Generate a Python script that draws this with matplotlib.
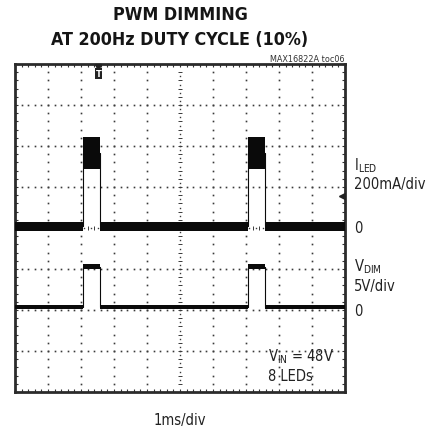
import numpy as np
import matplotlib
matplotlib.use("Agg")
import matplotlib.pyplot as plt

# ---------------- data (in graticule divisions) ----------------
# I_LED trace: path of time points and envelope (noise band) low/high in div
iled_t  = [0.0, 2.06, 2.06, 2.58, 2.58, 7.06, 7.06, 7.58, 7.58, 10.0]
iled_lo = [3.93, 3.93, 5.44, 5.44, 3.93, 3.93, 5.44, 5.44, 3.93, 3.93]
iled_hi = [4.15, 4.15, 6.22, 6.22, 4.15, 4.15, 6.22, 6.22, 4.15, 4.15]
iled_mid = [4.04, 4.04, 5.83, 5.83, 4.04, 4.04, 5.83, 5.83, 4.04, 4.04]

# V_DIM trace
vdim_t  = [0.0, 2.06, 2.06, 2.58, 2.58, 7.06, 7.06, 7.58, 7.58, 10.0]
vdim_lo = [2.02, 2.02, 2.99, 2.99, 2.02, 2.02, 2.99, 2.99, 2.02, 2.02]
vdim_hi = [2.12, 2.12, 3.11, 3.11, 2.12, 2.12, 3.11, 3.11, 2.12, 2.12]
vdim_mid = [2.07, 2.07, 3.05, 3.05, 2.07, 2.07, 3.05, 3.05, 2.07, 2.07]

trigger_t = 2.53
trigger_level = 4.78

title_lines = ["PWM DIMMING", "AT 200Hz DUTY CYCLE (10%)"]
doc_id = "MAX16822A toc06"
ch1_label = ["I$_{\\mathregular{LED}}$", "200mA/div", "0"]
ch2_label = ["V$_{\\mathregular{DIM}}$", "5V/div", "0"]
cond_label = ["V$_{\\mathregular{IN}}$ = 48V", "8 LEDs"]
x_label = "1ms/div"

# ---------------- figure ----------------
W, H = 433, 435
fig = plt.figure(figsize=(W / 100, H / 100), dpi=100)
fig.patch.set_facecolor("white")
NARROW = ["DejaVu Sans"]

L, T, R, B = 15, 65, 345, 393
ax = fig.add_axes([L / W, 1 - B / H, (R - L) / W, (B - T) / H])
ax.set_xlim(0, 10)
ax.set_ylim(0, 8)
for s in ax.spines.values():
    s.set_linewidth(2.0)
    s.set_color("#2b2b2b")

minor = np.arange(0, 10.001, 0.2)
minor_y = np.arange(0, 8.001, 0.2)
ax.set_xticks(minor)
ax.set_yticks(minor_y)
ax.tick_params(direction="in", length=2.4, width=0.8, color="#333333",
               top=True, right=True, labelbottom=False, labelleft=False)

gc = "#3a3a3a"
# dotted grid
for k in range(1, 10):
    if k == 5:
        continue
    ys = np.arange(0.2, 8.0, 0.2)
    ax.plot(np.full_like(ys, k), ys, "s", ms=1.2, color=gc, mew=0, zorder=1)
for k in range(1, 8):
    if k == 4:
        continue
    xs = np.arange(0.2, 10.0, 0.2)
    ax.plot(xs, np.full_like(xs, k), "s", ms=1.2, color=gc, mew=0, zorder=1)

# center axes with ticks
ys = np.arange(0.2, 8.0, 0.2)
ax.plot(np.full_like(ys, 5), ys, "_", ms=3.5, mew=0.7, color=gc, zorder=1)
ax.plot(np.full_like(ys[:-1], 5), ys[:-1] + 0.1, "s", ms=1.0, mew=0, color=gc, zorder=1)
xs = np.arange(0.2, 10.0, 0.2)
ax.plot(xs, np.full_like(xs, 4), "|", ms=3.5, mew=0.7, color=gc, zorder=1)
ax.plot(xs[:-1] + 0.1, np.full_like(xs[:-1], 4), "s", ms=1.0, mew=0, color=gc, zorder=1)

# traces
tc = "#0a0a0a"
ax.fill_between(iled_t, iled_lo, iled_hi, color=tc, lw=0, zorder=3)
ax.plot(iled_t, iled_mid, color=tc, lw=0.8, zorder=3)
ax.fill_between(vdim_t, vdim_lo, vdim_hi, color=tc, lw=0, zorder=3)
ax.plot(vdim_t, vdim_mid, color=tc, lw=0.8, zorder=3)

# trigger markers
ax.plot([trigger_t], [7.93], "v", ms=4.5, color="#222222", zorder=4, clip_on=False)
ax.text(trigger_t, 7.76, "T", ha="center", va="center", fontsize=6, fontweight="bold",
        color="white", family="DejaVu Sans", zorder=5,
        bbox=dict(boxstyle="square,pad=0.12", fc="#222222", ec="none"))
ax.plot([9.9], [trigger_level], "<", ms=4, color="#222222", zorder=4)

# ---------------- texts ----------------
def ftext(x, y, s, **kw):
    fig.text(x / W, 1 - y / H, s, **kw)

ttl = dict(ha="center", va="center", fontsize=12.8, fontweight="bold",
           family=NARROW, fontstretch="condensed", color="#151515")
ftext(180, 15, title_lines[0], **ttl)
ftext(180, 40, title_lines[1], **ttl)
ftext(345, 60, doc_id, ha="right", va="center", fontsize=6.5, family=NARROW,
      fontstretch="condensed", color="#333333")

lab = dict(ha="left", va="center", fontsize=10.5, family=NARROW,
           fontstretch="condensed", color="#222222")
ftext(354, 166, ch1_label[0], **lab)
ftext(354, 185, ch1_label[1], **lab)
ftext(354, 229, ch1_label[2], **lab)
ftext(354, 267, ch2_label[0], **lab)
ftext(354, 287, ch2_label[1], **lab)
ftext(354, 312, ch2_label[2], **lab)
ftext(268, 357, cond_label[0], **lab)
ftext(268, 377, cond_label[1], **lab)
ftext(180, 421, x_label, ha="center", va="center", fontsize=10.5, family=NARROW,
      fontstretch="condensed", color="#222222")

fig.savefig("out.png", dpi=100, facecolor="white")
